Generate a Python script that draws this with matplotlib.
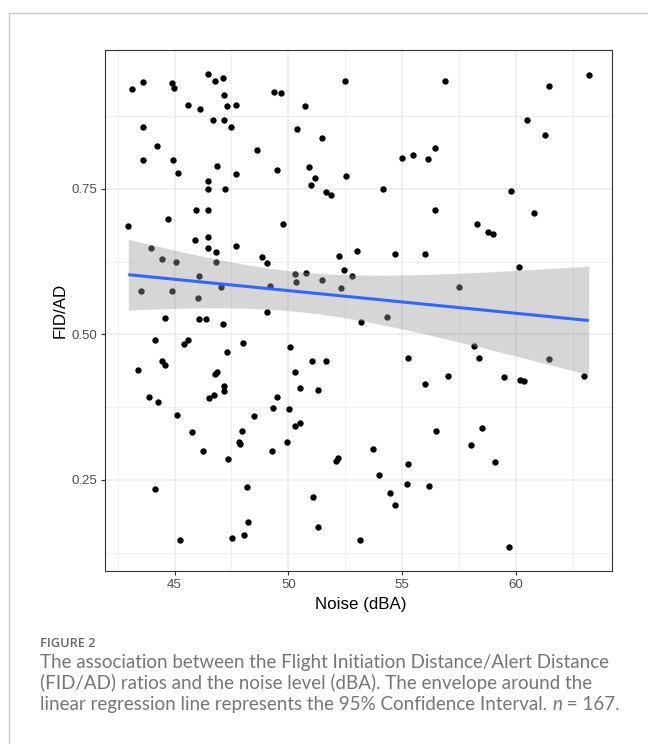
import numpy as np
import matplotlib
matplotlib.use("Agg")
import matplotlib.pyplot as plt
from matplotlib.lines import Line2D
from matplotlib.ticker import MultipleLocator

# ---------------- data ----------------
noise_dba = [
    43.11, 43.61, 44.87, 44.97, 46.46, 46.77, 47.12, 47.17, 45.57, 46.11,
    47.31, 47.68, 49.36, 49.68, 50.73, 52.47, 43.61, 46.67, 47.17, 47.47,
    50.37, 51.48, 44.23, 48.63, 43.61, 44.93, 46.87, 45.16, 47.68, 49.52,
    50.92, 51.18, 50.98, 52.52, 46.46, 46.46, 47.21, 51.67, 51.89, 45.96,
    46.46, 44.72, 42.97, 49.77, 43.95, 45.92, 46.46, 46.46, 46.82, 47.68,
    44.46, 45.07, 46.82, 48.86, 49.04, 52.22, 53.03, 52.43, 52.79, 46.07,
    50.28, 50.78, 51.48,
    50.34, 52.32, 43.51, 44.87, 47.02, 49.18, 46.01, 49.08, 44.58, 46.07,
    46.38, 47.12, 53.19, 44.12, 45.43, 45.61, 48.01, 47.31, 50.06, 43.38,
    44.46, 44.58, 46.79, 46.87, 47.17, 47.18, 51.03, 51.67, 50.28, 50.53,
    51.29, 43.88, 44.27, 46.52, 46.73, 49.52, 49.32, 50.03, 48.51, 45.13,
    45.78, 47.97, 47.81, 47.89, 49.93, 50.28, 50.53, 46.27, 49.27, 47.37,
    52.08, 52.17, 44.12, 48.18, 51.08, 48.23, 51.32, 45.22, 47.53, 48.07,
    53.16,
    56.89, 61.43, 63.19, 60.50, 61.29, 54.97, 55.47, 56.13, 56.43, 54.17,
    59.78, 56.43, 60.77, 58.28, 58.76, 58.98, 54.68, 55.99, 60.15,
    57.49, 54.33, 58.14, 55.24, 58.39, 61.43, 56.99, 55.99, 59.49, 60.18,
    60.34, 63.00, 56.49, 58.50, 53.73, 58.04, 59.08, 55.24, 53.99, 55.19,
    56.18, 54.47, 54.68, 59.69,
]
fid_ad = [
    0.921, 0.933, 0.932, 0.924, 0.948, 0.936, 0.941, 0.911, 0.895, 0.887,
    0.892, 0.894, 0.917, 0.914, 0.893, 0.936, 0.857, 0.869, 0.868, 0.857,
    0.853, 0.837, 0.824, 0.816, 0.800, 0.800, 0.790, 0.777, 0.775, 0.782,
    0.787, 0.769, 0.756, 0.772, 0.763, 0.750, 0.750, 0.744, 0.739, 0.714,
    0.714, 0.699, 0.686, 0.689, 0.649, 0.663, 0.667, 0.648, 0.642, 0.651,
    0.630, 0.625, 0.625, 0.633, 0.623, 0.634, 0.643, 0.610, 0.601, 0.601,
    0.603, 0.605, 0.593,
    0.590, 0.579, 0.575, 0.575, 0.581, 0.583, 0.562, 0.539, 0.528, 0.526,
    0.526, 0.518, 0.522, 0.491, 0.483, 0.490, 0.486, 0.469, 0.478, 0.439,
    0.455, 0.447, 0.432, 0.435, 0.411, 0.402, 0.455, 0.454, 0.436, 0.407,
    0.404, 0.393, 0.384, 0.390, 0.396, 0.392, 0.373, 0.371, 0.360, 0.362,
    0.332, 0.334, 0.315, 0.312, 0.315, 0.342, 0.348, 0.300, 0.300, 0.286,
    0.283, 0.287, 0.235, 0.238, 0.221, 0.177, 0.169, 0.147, 0.150, 0.155,
    0.147,
    0.936, 0.926, 0.945, 0.868, 0.842, 0.803, 0.808, 0.802, 0.820, 0.750,
    0.746, 0.713, 0.709, 0.690, 0.676, 0.672, 0.638, 0.638, 0.615,
    0.582, 0.530, 0.480, 0.460, 0.460, 0.457, 0.428, 0.414, 0.427, 0.422,
    0.419, 0.428, 0.334, 0.339, 0.303, 0.310, 0.281, 0.277, 0.258, 0.243,
    0.239, 0.227, 0.206, 0.134,
]
x_ticks = [45, 50, 55, 60]
y_ticks = [0.25, 0.50, 0.75]
y_tick_labels = ["0.25", "0.50", "0.75"]
x_label = "Noise (dBA)"
y_label = "FID/AD"
fig_label = "FIGURE 2"
caption_lines = [
    "The association between the Flight Initiation Distance/Alert Distance",
    "(FID/AD) ratios and the noise level (dBA). The envelope around the",
    "linear regression line represents the 95% Confidence Interval. ",
]
caption_n = "n"
caption_tail = " = 167."

# ---------------- figure ----------------
W, H = 648, 744
fig = plt.figure(figsize=(W / 100, H / 100), dpi=100)
fig.patch.set_facecolor("white")

def fx(px):
    return px / W

def fy(py):
    return 1 - py / H

left, right, top, bottom = 105.3, 611.7, 50.0, 571.0
ax = fig.add_axes([fx(left), fy(bottom), fx(right) - fx(left), fy(top) - fy(bottom)])

x = np.asarray(noise_dba)
y = np.asarray(fid_ad)

# linear model + 95% CI (like geom_smooth(method="lm"))
n = len(x)
b1, b0 = np.polyfit(x, y, 1)
resid = y - (b0 + b1 * x)
s = np.sqrt(np.sum(resid ** 2) / (n - 2))
xg = np.linspace(x.min(), x.max(), 80)
yg = b0 + b1 * xg
se = s * np.sqrt(1 / n + (xg - x.mean()) ** 2 / np.sum((x - x.mean()) ** 2))
tval = 1.9744
ax.scatter(x, y, s=21, color="black", linewidths=0, zorder=3)
ax.fill_between(xg, yg - tval * se, yg + tval * se, color="#999999", alpha=0.4,
                linewidth=0, zorder=4)
ax.plot(xg, yg, color="#3366FF", lw=2.2, zorder=5, solid_capstyle="butt")

ax.margins(x=0.05, y=0.05)
ax.set_xticks(x_ticks)
ax.set_yticks(y_ticks)
ax.set_yticklabels(y_tick_labels)
ax.xaxis.set_minor_locator(MultipleLocator(2.5))
ax.yaxis.set_minor_locator(MultipleLocator(0.125))
ax.grid(which="major", color="#EBEBEB", lw=1.1, zorder=0)
ax.grid(which="minor", color="#EBEBEB", lw=0.55, zorder=0)
ax.set_axisbelow(True)
for sp in ax.spines.values():
    sp.set_color("#333333")
    sp.set_linewidth(0.8)
ax.tick_params(which="major", length=3.2, width=0.8, color="#333333",
               labelcolor="#4D4D4D", labelsize=9.5, pad=2.5)
ax.tick_params(which="minor", length=0)
for lab in ax.get_xticklabels() + ax.get_yticklabels():
    lab.set_fontfamily(["Liberation Sans", "DejaVu Sans"])

fig.text(fx(360.5), fy(609.5), x_label, ha="center", va="baseline",
         fontsize=12.2, color="black", family=["Liberation Sans", "DejaVu Sans"])
fig.text(fx(59.8), fy(310.5), y_label, ha="center", va="center", rotation=90,
         fontsize=12.2, color="black", family=["Liberation Sans", "DejaVu Sans"])

# outer frame (light gray, top + left)
fig.add_artist(Line2D([fx(9.3), fx(9.3)], [0, fy(13.3)], transform=fig.transFigure,
                      color="#CCCCCC", lw=1.0))
fig.add_artist(Line2D([fx(9.3), 1], [fy(13.3), fy(13.3)], transform=fig.transFigure,
                      color="#CCCCCC", lw=1.0))

# caption
fig.text(fx(40), fy(647.3), fig_label, ha="left", va="baseline", fontsize=9.2,
         fontweight="semibold", color="#666666", family=["Open Sans", "DejaVu Sans"])

cap_font = ["Lato", "DejaVu Sans"]
cap_color = "#767676"
renderer = fig.canvas.get_renderer()
probe = fig.text(0, 0, caption_lines[0], fontsize=10, family=cap_font, fontweight="normal")
w10 = probe.get_window_extent(renderer).width
probe.remove()
cap_size = 10 * (610 - 40.5) / w10
baselines = [668.3, 689.3, 710.3]
last = None
for line, bl in zip(caption_lines, baselines):
    last = fig.text(fx(40.5), fy(bl), line, ha="left", va="baseline", fontsize=cap_size,
                    family=cap_font, fontweight="normal", color=cap_color)
ext = last.get_window_extent(renderer)
t_n = fig.text(ext.x1 / W, fy(baselines[2]), caption_n, ha="left", va="baseline",
               fontsize=cap_size, family=cap_font, fontweight="normal", style="italic",
               color=cap_color)
ext2 = t_n.get_window_extent(renderer)
fig.text(ext2.x1 / W, fy(baselines[2]), caption_tail, ha="left", va="baseline",
         fontsize=cap_size, family=cap_font, fontweight="normal", color=cap_color)

fig.savefig("out.png", dpi=100, facecolor="white")
